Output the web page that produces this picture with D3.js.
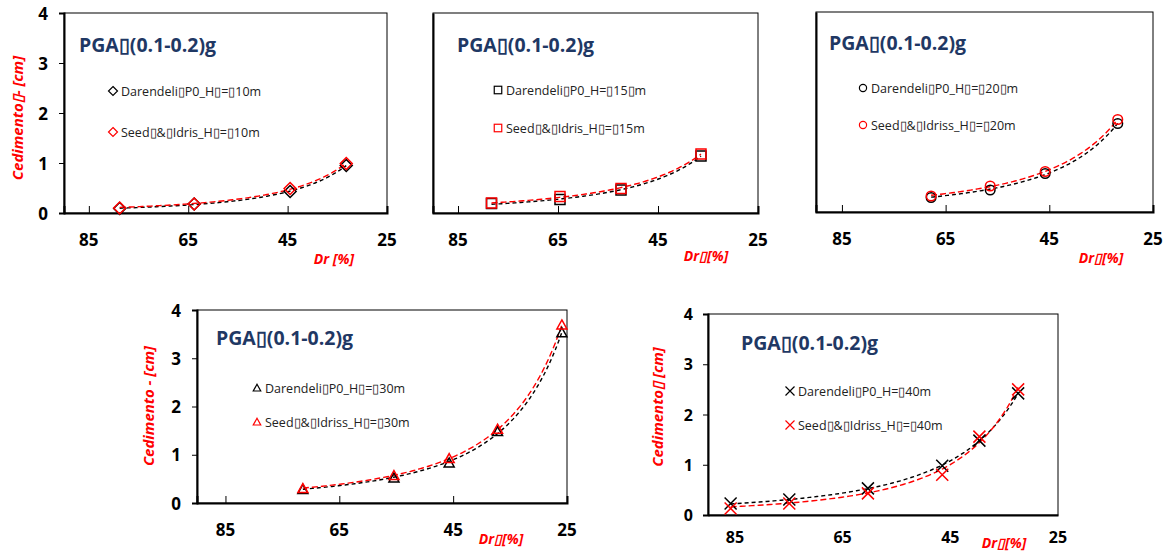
<!DOCTYPE html>
<html><head><meta charset="utf-8">
<script src="https://cdn.jsdelivr.net/npm/d3@7"></script>
<style>
html,body{margin:0;padding:0;background:#fff;}
svg{display:block;}
</style></head>
<body>
<svg id="chart" width="1166" height="551"></svg>
<script>
// ---- DATA ----
const B = "\u25AF"; // missing-glyph box as it appears in the source
const xTickValues = [85, 65, 45, 25];
const yTickValues = [0, 1, 2, 3, 4];
const titleText = "PGA" + B + "(0.1-0.2)g";

const dr10 = [78.8, 63.8, 44.5, 33.2];
const darendeli10 = [0.09, 0.18, 0.43, 0.95];
const seed10 = [0.10, 0.18, 0.49, 0.99];

const dr15 = [78.3, 64.6, 52.4, 36.4];
const darendeli15 = [0.19, 0.27, 0.46, 1.14];
const seed15 = [0.20, 0.33, 0.49, 1.18];

const dr20 = [67.8, 56.4, 45.8, 31.8];
const darendeli20 = [0.29, 0.44, 0.77, 1.77];
const seed20 = [0.32, 0.52, 0.81, 1.85];

const dr30 = [71.4, 55.4, 45.7, 37.2, 25.9];
const darendeli30 = [0.28, 0.52, 0.83, 1.48, 3.53];
const seed30 = [0.30, 0.57, 0.92, 1.53, 3.69];

const dr40 = [85.8, 74.9, 60.3, 46.5, 39.6, 32.4];
const darendeli40 = [0.23, 0.31, 0.53, 0.98, 1.48, 2.42];
const seed40 = [0.13, 0.23, 0.43, 0.80, 1.56, 2.50];

const legendDarendeli = ["Darendeli"+B+"P0_H"+B+"="+B+"10m", "Darendeli"+B+"P0_H="+B+"15"+B+"m", "Darendeli"+B+"P0_H"+B+"="+B+"20"+B+"m", "Darendeli"+B+"P0_H"+B+"="+B+"30m", "Darendeli"+B+"P0_H="+B+"40m"];
const legendSeed = ["Seed"+B+"&"+B+"Idris_H"+B+"="+B+"10m", "Seed"+B+"&"+B+"Idris_H"+B+"="+B+"15m", "Seed"+B+"&"+B+"Idriss_H"+B+"="+B+"20m", "Seed"+B+"&"+B+"Idriss_H"+B+"="+B+"30m", "Seed"+B+"&"+B+"Idriss_H"+B+"="+B+"40m"];
const yTitles = ["Cedimento"+B+"- [cm]", null, null, "Cedimento - [cm]", "Cedimento"+B+" [cm]"];
const xTitles = ["Dr [%]", "Dr"+B+"[%]", "Dr"+B+"[%]", "Dr"+B+"[%]", "Dr"+B+"[%]"];
const markerShapes = ["diamond", "square", "circle", "triangle", "cross"];

// ---- LAYOUT ----
const panels = [
  {dr: dr10, a: darendeli10, b: seed10, x0: 64, x1: 387, y0: 13, y1: 213, yLab: true, yTicks: true, xTickMarks: true, tickFont: 17, xLabY: 239, yLabX: 48, yTitleX: 17, yTitleY: 118, xTitleX: 334, xTitleY: 258, titleX: 79, titleY: 52, legX: 113, legY1: 91, legY2: 132},
  {dr: dr15, a: darendeli15, b: seed15, x0: 433, x1: 758, y0: 13, y1: 213, yLab: false, yTicks: false, xTickMarks: true, tickFont: 17, xLabY: 239, xTitleX: 706, xTitleY: 255, titleX: 457, titleY: 52, legX: 498, legY1: 90, legY2: 128},
  {dr: dr20, a: darendeli20, b: seed20, x0: 816, x1: 1153, y0: 12, y1: 212, yLab: false, yTicks: false, xTickMarks: true, tickFont: 17, xLabY: 238, xTitleX: 1101, xTitleY: 257, titleX: 829, titleY: 50, legX: 863, legY1: 88, legY2: 125},
  {dr: dr30, a: darendeli30, b: seed30, x0: 197, x1: 567, y0: 310, y1: 503, yLab: true, yTicks: true, xTickMarks: true, tickFont: 17, xLabY: 529, yLabX: 181, yTitleX: 148, yTitleY: 406, xTitleX: 501, xTitleY: 538, titleX: 216, titleY: 345, legX: 257, legY1: 388, legY2: 422},
  {dr: dr40, a: darendeli40, b: seed40, x0: 708, x1: 1058, y0: 314, y1: 515, yLab: true, yTicks: true, xTickMarks: false, tickFont: 16, xLabY: 537, yLabX: 693, yTitleX: 657, yTitleY: 407, xTitleX: 1004, xTitleY: 542, titleX: 741, titleY: 350, legX: 790, legY1: 391, legY2: 425}
];

const svg = d3.select("#chart");
const FONT = "'Open Sans', 'Noto Sans', sans-serif";
const RED = "#ff0000";
const BLACK = "#000000";

function drawMarker(g, shape, cx, cy, color, k) {
  k = k || 1;
  const sw = 1.5;
  if (shape === "diamond") {
    const r = 6 * k;
    g.append("path").attr("d", `M${cx},${cy-r}L${cx+r},${cy}L${cx},${cy+r}L${cx-r},${cy}Z`)
      .attr("fill", "none").attr("stroke", color).attr("stroke-width", sw);
  } else if (shape === "square") {
    const r = 5 * k;
    g.append("rect").attr("x", cx-r).attr("y", cy-r).attr("width", 2*r).attr("height", 2*r)
      .attr("fill", "none").attr("stroke", color).attr("stroke-width", sw);
  } else if (shape === "circle") {
    g.append("circle").attr("cx", cx).attr("cy", cy).attr("r", 4.8 * k)
      .attr("fill", "none").attr("stroke", color).attr("stroke-width", sw);
  } else if (shape === "triangle") {
    const r = 5 * k;
    g.append("path").attr("d", `M${cx},${cy-r}L${cx+r},${cy+0.8*r}L${cx-r},${cy+0.8*r}Z`)
      .attr("fill", "none").attr("stroke", color).attr("stroke-width", sw);
  } else if (shape === "cross") {
    const r = 6 * k;
    g.append("path").attr("d", `M${cx-r},${cy-r}L${cx+r},${cy+r}M${cx+r},${cy-r}L${cx-r},${cy+r}`)
      .attr("fill", "none").attr("stroke", color).attr("stroke-width", sw);
  }
}

// power-law trendline y = a*x^b, fitted on log-log with weights y^2 (close to a least-squares fit in value space)
function powerFit(xs, ys) {
  const lx = xs.map(Math.log), ly = ys.map(Math.log), w = ys.map(v => v * v);
  const sw = d3.sum(w);
  const mx = d3.sum(lx.map((v, i) => v * w[i])) / sw;
  const my = d3.sum(ly.map((v, i) => v * w[i])) / sw;
  let num = 0, den = 0;
  for (let i = 0; i < xs.length; i++) { num += w[i]*(lx[i]-mx)*(ly[i]-my); den += w[i]*(lx[i]-mx)**2; }
  const b = num/den, a = Math.exp(my - b*mx);
  return x => a * Math.pow(x, b);
}

panels.forEach((p, i) => {
  const g = svg.append("g");
  const x = d3.scaleLinear().domain([90, 25]).range([p.x0, p.x1]);
  const y = d3.scaleLinear().domain([0, 4]).range([p.y1, p.y0]);

  // frame
  g.append("rect").attr("x", p.x0).attr("y", p.y0).attr("width", p.x1 - p.x0).attr("height", p.y1 - p.y0)
    .attr("fill", "none").attr("stroke", "#000").attr("stroke-width", 1);

  // x axis
  const xAxis = d3.axisBottom(x).tickValues(xTickValues).tickSize(p.xTickMarks ? -7 : 0).tickFormat("");
  const xg = g.append("g").attr("transform", `translate(0,${p.y1})`).call(xAxis);
  xg.select(".domain").attr("stroke", "#000").attr("stroke-width", 2);
  xg.selectAll(".tick line").attr("stroke", "#000");
  g.selectAll(".xlab").data(xTickValues).enter().append("text")
    .attr("x", d => x(d)).attr("y", p.xLabY).attr("text-anchor", "middle").attr("dominant-baseline", "central")
    .attr("font-family", FONT).attr("font-weight", "bold").attr("font-size", p.tickFont).attr("fill", "#000")
    .text(d => d);

  // y axis
  const yAxis = d3.axisLeft(y).tickValues(yTickValues).tickSize(p.yTicks ? 5 : 0).tickFormat("");
  const yg = g.append("g").attr("transform", `translate(${p.x0},0)`).call(yAxis);
  yg.select(".domain").attr("stroke", "#000").attr("stroke-width", 2);
  yg.selectAll(".tick line").attr("stroke", "#000");
  if (p.yLab) {
    g.selectAll(".ylab").data(yTickValues).enter().append("text")
      .attr("x", p.yLabX).attr("y", d => y(d)).attr("text-anchor", "end").attr("dominant-baseline", "central")
      .attr("font-family", FONT).attr("font-weight", "bold").attr("font-size", p.tickFont).attr("fill", "#000")
      .text(d => d);
  }

  // axis titles
  if (yTitles[i]) {
    g.append("text").attr("transform", `translate(${p.yTitleX},${p.yTitleY}) rotate(-90)`)
      .attr("text-anchor", "middle").attr("dominant-baseline", "central")
      .attr("font-family", FONT).attr("font-weight", "bold").attr("font-style", "italic").attr("font-size", 15)
      .attr("fill", RED).text(yTitles[i]);
  }
  g.append("text").attr("x", p.xTitleX).attr("y", p.xTitleY).attr("text-anchor", "middle").attr("dominant-baseline", "central")
    .attr("font-family", FONT).attr("font-weight", "bold").attr("font-style", "italic").attr("font-size", 14)
    .attr("fill", RED).text(xTitles[i]);

  // trendlines
  const series = [
    {vals: p.a, color: BLACK, dash: "4,3"},
    {vals: p.b, color: RED, dash: "6,3"}
  ];
  series.forEach(s => {
    const f = powerFit(p.dr, s.vals);
    const lo = d3.min(p.dr), hi = d3.max(p.dr);
    const pts = d3.range(0, 81).map(k => hi - (hi - lo) * k / 80);
    g.append("path").datum(pts)
      .attr("d", d3.line().x(d => x(d)).y(d => y(f(d))))
      .attr("fill", "none").attr("stroke", s.color).attr("stroke-width", 1.4).attr("stroke-dasharray", s.dash);
  });
  // markers
  series.forEach(s => {
    p.dr.forEach((d, k) => drawMarker(g, markerShapes[i], x(d), y(s.vals[k]), s.color));
  });

  // chart title
  g.append("text").attr("x", p.titleX).attr("y", p.titleY)
    .attr("font-family", FONT).attr("font-weight", "bold").attr("font-size", 19.5).attr("fill", "#1f3864")
    .text(titleText);

  // legend
  [[legendDarendeli[i], BLACK, p.legY1], [legendSeed[i], RED, p.legY2]].forEach(([t, c, ly]) => {
    const lg = g.append("g");
    drawMarker(lg, markerShapes[i], p.legX, ly, c, 0.75);
    lg.selectAll("*").attr("stroke-width", 1.2);
    g.append("text").attr("x", p.legX + 8).attr("y", ly).attr("dominant-baseline", "central")
      .attr("font-family", FONT).attr("font-size", 12.5).attr("fill", "#222").text(t);
  });
});
</script>
</body></html>
